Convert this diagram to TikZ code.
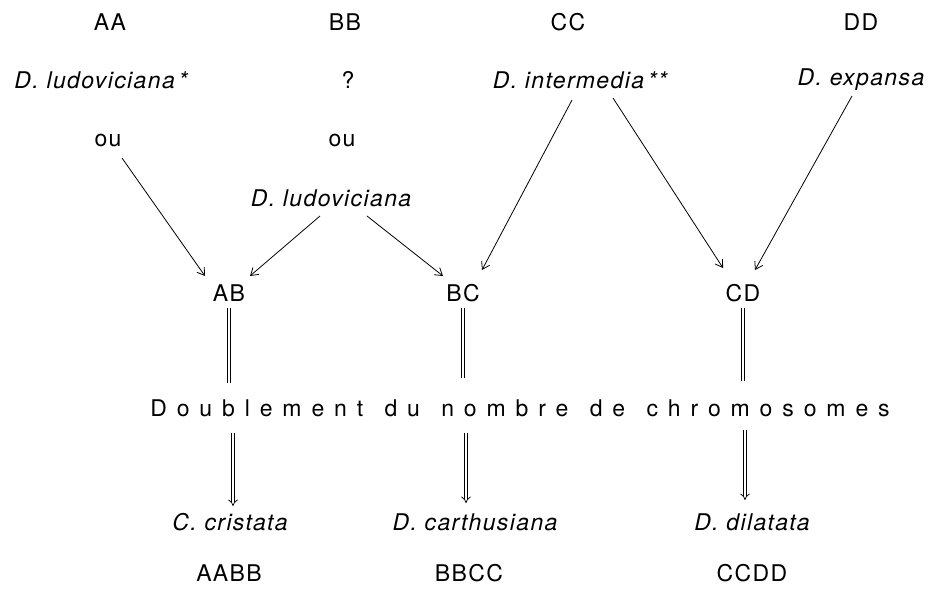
\documentclass[tikz,border=0pt]{standalone}
\usepackage{fontspec}
\setmainfont{TeX Gyre Heros}[LetterSpace=6]
\newfontfamily\spacedfont{TeX Gyre Heros}[LetterSpace=43]
\usetikzlibrary{arrows.meta}
\begin{document}
\begin{tikzpicture}[x=1pt,y=-1pt,
  lbl/.style={font=\fontsize{23}{27}\selectfont, inner sep=0pt, anchor=center},
  sp/.style={font=\fontsize{23}{27}\selectfont\itshape, inner sep=0pt, anchor=center},
  arr/.style={-{Straight Barb[length=7pt,width=9pt]}, line width=0.8pt},
  dbl/.style={double distance=2.6pt, line width=0.75pt},
  dblarr/.style={dbl, -{Implies[length=6pt,width=10pt]}}
]
\useasboundingbox (0,0) rectangle (931,596);
% genome labels
\node[lbl] (AA) at (110,22) {AA};
\node[lbl] (BB) at (345,22) {BB};
\node[lbl] (CC) at (568,22) {CC};
\node[lbl] (DD) at (861,22) {DD};
% parent species
\node[sp] (ludoA) at (101,80) {D. ludoviciana\,*};
\node[lbl] (q) at (348,80) {?};
\node[sp] (inter) at (580,80) {D. intermedia\,**};
\node[sp] (expansa) at (861,80) {D. expansa};
\node[lbl] (ouA) at (108,140) {ou};
\node[lbl] (ouB) at (342,140) {ou};
\node[sp] (ludoB) at (331,198) {D. ludoviciana};
% hybrids
\node[lbl] (AB) at (229,293) {AB};
\node[lbl] (BC) at (463,293) {BC};
\node[lbl] (CD) at (743,293) {CD};
% doubling
\node[font=\spacedfont\fontsize{23}{27}\selectfont, inner sep=0pt] (doub) at (520,408) {Doublement\hspace{5pt} du\hspace{5pt} nombre\hspace{5pt} de\hspace{5pt} chromosomes};
% allopolyploids
\node[sp] (cris) at (230,522) {C. cristata};
\node[sp] (cart) at (475,522) {D. carthusiana};
\node[sp] (dila) at (752,522) {D. dilatata};
\node[lbl] (AABB) at (229,573) {AABB};
\node[lbl] (BBCC) at (469,573) {BBCC};
\node[lbl] (CCDD) at (752,573) {CCDD};
% crosses
\draw[arr] ([shift={(14,18)}]ouA.center) -- ([shift={(-24,-17)}]AB.center);
\draw[arr] ([shift={(-11,18)}]ludoB.center) -- ([shift={(21,-17)}]AB.center);
\draw[arr] ([shift={(36,18)}]ludoB.center) -- ([shift={(-20,-17)}]BC.center);
\draw[arr] ([shift={(-8,20)}]inter.center) -- ([shift={(19,-23)}]BC.center);
\draw[arr] ([shift={(33,18)}]inter.center) -- ([shift={(-20,-25)}]CD.center);
\draw[arr] ([shift={(-9,16)}]expansa.center) -- ([shift={(12,-23)}]CD.center);
% doubling lines
\draw[dbl] ([shift={(0,15)}]AB.center) -- ([shift={(0,-25)}]AB.center |- doub.center);
\draw[dbl] ([shift={(0,15)}]BC.center) -- ([shift={(0,-30)}]BC.center |- doub.center);
\draw[dbl] ([shift={(0,15)}]CD.center) -- ([shift={(0,-27)}]CD.center |- doub.center);
\draw[dblarr] ([shift={(4,25)}]AB.center |- doub.center) -- ([shift={(4,-16)}]AB.center |- cris.center);
\draw[dblarr] ([shift={(3,25)}]BC.center |- doub.center) -- ([shift={(3,-19)}]BC.center |- cart.center);
\draw[dblarr] ([shift={(2,22)}]CD.center |- doub.center) -- ([shift={(2,-22)}]CD.center |- dila.center);
\end{tikzpicture}
\end{document}
